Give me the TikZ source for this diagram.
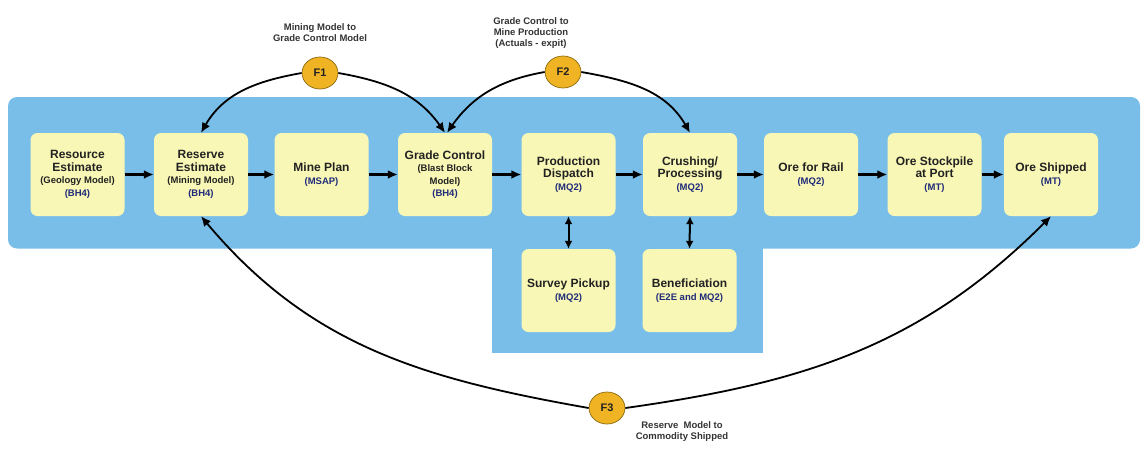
\documentclass[tikz,border=0pt]{standalone}
\usepackage{fontspec}
\setmainfont{Liberation Sans}
\usetikzlibrary{arrows.meta,shapes.geometric}
\definecolor{bgblue}{HTML}{78BEE9}
\definecolor{boxyellow}{HTML}{F8F7B6}
\definecolor{fcirc}{HTML}{EFB324}
\definecolor{fedge}{HTML}{8A6A10}
\definecolor{codeblue}{HTML}{1F2A7A}
\definecolor{txtc}{HTML}{222222}
\definecolor{lblc}{HTML}{333333}
\newcommand{\bxS}[1]{{\fontsize{9.5}{12.5}\selectfont #1}}
\newcommand{\bxC}[1]{{\color{codeblue}\fontsize{9.5}{12.5}\selectfont #1}}
\tikzset{
  procbox/.style={rectangle, rounded corners=7pt, fill=boxyellow, minimum width=94pt,
    minimum height=83pt, inner sep=0pt, align=center, text=txtc,
    font=\bfseries\fontsize{12}{12.5}\selectfont},
  fnode/.style={ellipse, fill=fcirc, draw=fedge, line width=0.7pt, minimum width=36pt,
    minimum height=32pt, inner sep=0pt, font=\bfseries\fontsize{11}{12}\selectfont, text=txtc},
  lbl/.style={align=center, text=lblc, font=\bfseries\fontsize{9.5}{11}\selectfont},
  harr/.style={line width=2.2pt, -{Latex[length=10pt,width=9pt]}},
  varr/.style={line width=2pt, {Latex[length=8pt,width=8pt]}-{Latex[length=8pt,width=8pt]}},
  carr/.style={line width=1.8pt, -{Latex[length=10pt,width=9pt]}},
}
\begin{document}
\begin{tikzpicture}[x=1pt,y=-1pt]
\useasboundingbox (0,0) rectangle (1147,451);
% background
\fill[bgblue, rounded corners=9pt] (8,97) rectangle (1140,248.5);
\fill[bgblue] (492,240) rectangle (763,353);
% boxes
\node[procbox] (r1) at (77.5,174.5) {Resource\\Estimate\\\bxS{(Geology Model)}\\\bxC{(BH4)}};
\node[procbox] (r2) at (201,174.5) {Reserve\\Estimate\\\bxS{(Mining Model)}\\\bxC{(BH4)}};
\node[procbox] (r3) at (321.5,174.5) {Mine Plan\\\bxC{(MSAP)}};
\node[procbox] (r4) at (445,174.5) {Grade Control\\\bxS{(Blast Block}\\\bxS{Model)}\\\bxC{(BH4)}};
\node[procbox] (r5) at (568.5,174.5) {Production\\Dispatch\\\bxC{(MQ2)}};
\node[procbox] (r6) at (690,174.5) {Crushing/\\Processing\\\bxC{(MQ2)}};
\node[procbox] (r7) at (811,174.5) {Ore for Rail\\\bxC{(MQ2)}};
\node[procbox] (r8) at (934.5,174.5) {Ore Stockpile\\at Port\\\bxC{(MT)}};
\node[procbox] (r9) at (1051,174.5) {Ore Shipped\\\bxC{(MT)}};
\node[procbox] (s1) at (568.5,290.5) {Survey Pickup\\\bxC{(MQ2)}};
\node[procbox] (s2) at (689.5,290.5) {Beneficiation\\\bxC{(E2E and MQ2)}};
% flow arrows
\draw[harr] (r1) -- (r2);
\draw[harr] (r2) -- (r3);
\draw[harr] (r3) -- (r4);
\draw[harr] (r4) -- (r5);
\draw[harr] (r5) -- (r6);
\draw[harr] (r6) -- (r7);
\draw[harr] (r7) -- (r8);
\draw[harr] (r8) -- (r9);
\draw[varr] (r5.south) -- (s1.north);
\draw[varr] (r6.south) -- (s2.north);
% F nodes
\node[fnode] (f1) at (320,73) {F1};
\node[fnode] (f2) at (563,72) {F2};
\node[fnode] (f3) at (607,408) {F3};
\node[lbl] (l1) at (320,33) {Mining Model to\\Grade Control Model};
\node[lbl] (l2) at (531,33) {Grade Control to\\Mine Production\\(Actuals - expit)};
\node[lbl] (l3) at (682,432) {Reserve\ \ Model to\\Commodity Shipped};
% feedback curves
\draw[carr] (f1.west) to[out=190,in=60] (r2.north);
\draw[carr] (f1.east) to[out=-10,in=125] (r4.north);
\draw[carr] (f2.west) to[out=190,in=55] ([xshift=2pt]r4.north);
\draw[carr] (f2.east) to[out=-10,in=120] (r6.north);
\draw[carr] (f3.west) to[out=170,in=-50] (r2.south);
\draw[carr] (f3.east) to[out=8,in=225] (r9.south);
\end{tikzpicture}
\end{document}
